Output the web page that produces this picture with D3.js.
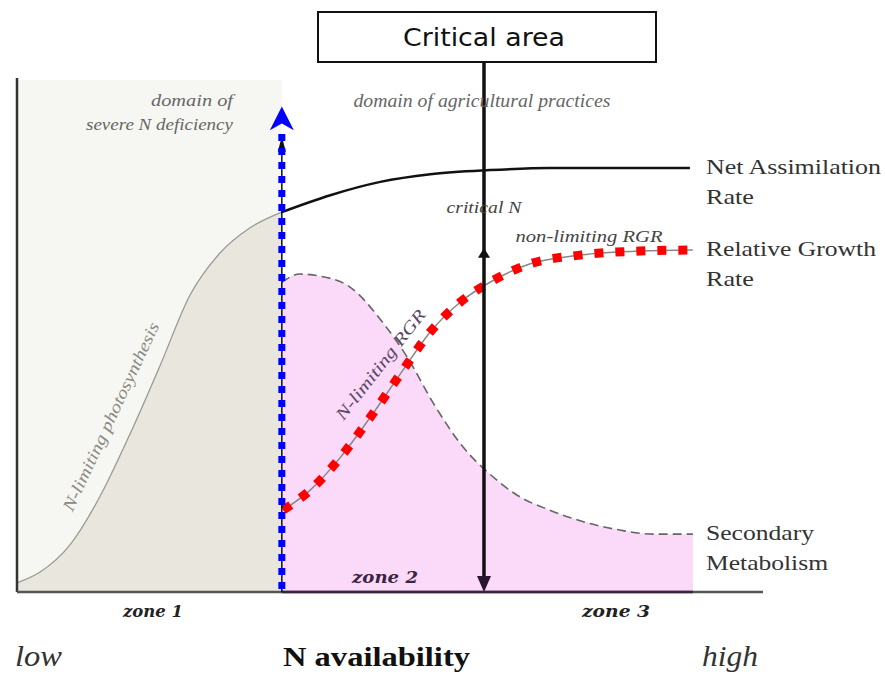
<!DOCTYPE html>
<html>
<head>
<meta charset="utf-8">
<script src="https://cdn.jsdelivr.net/npm/d3@7"></script>
<style>
  body { margin: 0; background: #fff; }
  svg { display: block; }
</style>
</head>
<body>
<svg width="885" height="679"></svg>
<script>
const svg = d3.select("svg");

// N availability (0-100) en x, respuesta relativa (0-100) en y
const photoN   = [0, 3.1, 7.1, 11.1, 15.1, 19.2, 23.2, 27.2, 31.2, 35.5];
const photoVal = [1.8, 3.9, 9.2, 18.6, 30.7, 44.3, 58.0, 66.2, 71.1, 74.2];

const narN   = [35.5, 42.0, 48.7, 55.4, 63.4, 71.4, 90.2];
const narVal = [74.2, 77.5, 80.1, 81.6, 82.4, 82.8, 82.8];

const smN   = [35.5, 37.9, 40.6, 44.6, 49.1, 52.3, 55.8, 59.8, 63.4, 67.4, 71.4, 75.5, 80.8, 85.3, 90.6];
const smVal = [60.5, 62.1, 61.7, 59.6, 52.5, 45.9, 36.9, 28.3, 23.0, 18.6, 16.0, 13.9, 12.1, 11.3, 11.3];

const rgrN   = [35.7, 39.3, 43.3, 47.3, 51.3, 55.4, 59.4, 63.4, 68.8, 75.5, 83.5, 90.6];
const rgrVal = [16.0, 19.9, 26.2, 34.0, 42.4, 50.8, 56.6, 60.5, 64.1, 65.8, 66.6, 66.8];

const deficiencyN = 35.5;   // limite zona 1
const criticalN = 62.6;     // N critico
const endN = 90.6;

const curveLabels = [
  { lines: ["Net Assimilation", "Rate"], widths: [175, 48], val: 82.8 },
  { lines: ["Relative Growth", "Rate"], widths: [170, 48], val: 66.8 },
  { lines: ["Secondary", "Metabolism"], widths: [108, 122], val: 11.3 }
];
const zoneLabels = ["zone 1", "zone 2", "zone 3"];

// Escalas
const xScale = d3.scaleLinear().domain([0, 100]).range([17, 763]);
const yScale = d3.scaleLinear().domain([0, 100]).range([592, 80]);

const zip = (a, b) => a.map((d, i) => [d, b[i]]);
const line = d3.line().x(d => xScale(d[0])).y(d => yScale(d[1])).curve(d3.curveMonotoneX);
const area = d3.area().x(d => xScale(d[0])).y0(yScale(0)).y1(d => yScale(d[1])).curve(d3.curveMonotoneX);

// Texto con ancho fijo (la imagen original esta algo estirada)
function addText(x, y, str, size, width, anchor) {
  const t = svg.append("text")
    .attr("x", x).attr("y", y)
    .attr("text-anchor", anchor || "start")
    .attr("font-size", size + "px")
    .text(str);
  if (width) t.attr("textLength", width).attr("lengthAdjust", "spacingAndGlyphs");
  return t;
}

// Fondo zona 1
svg.append("rect")
  .attr("x", xScale(0)).attr("y", yScale(100))
  .attr("width", xScale(deficiencyN) - xScale(0))
  .attr("height", yScale(0) - yScale(100))
  .attr("fill", "#f6f6f2");

// Area bajo fotosintesis
svg.append("path").datum(zip(photoN, photoVal)).attr("d", area).attr("fill", "#e9e6dd");

// Area rosa metabolismo secundario
svg.append("path").datum(zip(smN, smVal)).attr("d", area).attr("fill", "#fbd9f8");

// Curva fotosintesis limitada
svg.append("path").datum(zip(photoN, photoVal)).attr("d", line)
  .attr("fill", "none").attr("stroke", "#9a9a94").attr("stroke-width", 1.3);

// Net assimilation rate
svg.append("path").datum(zip(narN, narVal)).attr("d", line)
  .attr("fill", "none").attr("stroke", "#111").attr("stroke-width", 2.5);

// Metabolismo secundario (discontinua)
svg.append("path").datum(zip(smN, smVal)).attr("d", line)
  .attr("fill", "none").attr("stroke", "#666").attr("stroke-width", 1.6)
  .attr("stroke-dasharray", "9,5");

// RGR: linea gris + cuadrados rojos
svg.append("path").datum(zip(rgrN, rgrVal)).attr("d", line)
  .attr("fill", "none").attr("stroke", "#888").attr("stroke-width", 1.5);
svg.append("path").datum(zip(rgrN, rgrVal)).attr("d", line)
  .attr("fill", "none").attr("stroke", "#ff0000").attr("stroke-width", 9)
  .attr("stroke-dasharray", "9,12");

// Ejes
svg.append("line")
  .attr("x1", xScale(0)).attr("y1", yScale(0)).attr("x2", xScale(0)).attr("y2", yScale(100) - 2)
  .attr("stroke", "#333").attr("stroke-width", 2.5);
svg.append("line")
  .attr("x1", xScale(0)).attr("y1", yScale(0)).attr("x2", xScale(100)).attr("y2", yScale(0))
  .attr("stroke", "#555").attr("stroke-width", 2.5);
svg.append("line")
  .attr("x1", xScale(deficiencyN)).attr("y1", yScale(0)).attr("x2", xScale(endN)).attr("y2", yScale(0))
  .attr("stroke", "#3b2440").attr("stroke-width", 2.5);

// Flecha negra bajo la azul
const xd = xScale(deficiencyN);
svg.append("line")
  .attr("x1", xd).attr("y1", yScale(0)).attr("x2", xd).attr("y2", yScale(88))
  .attr("stroke", "#111").attr("stroke-width", 1.5);
svg.append("path")
  .attr("d", `M${xd - 4},${yScale(86)} L${xd},${yScale(89)} L${xd + 4},${yScale(86)} Z`)
  .attr("fill", "#111");

// Linea azul punteada con flecha
svg.append("line")
  .attr("x1", xd).attr("y1", yScale(0) - 3).attr("x2", xd).attr("y2", yScale(90.5))
  .attr("stroke", "#0000ff").attr("stroke-width", 7)
  .attr("stroke-dasharray", "7,7");
svg.append("path")
  .attr("d", `M${xd - 12},${yScale(90.2)} L${xd},${yScale(94.8)} L${xd + 12},${yScale(90.2)} L${xd},${yScale(91.5)} Z`)
  .attr("fill", "#0000ff");

// Caja "Critical area"
const xc = xScale(criticalN);
svg.append("rect")
  .attr("x", 318).attr("y", 12).attr("width", 338).attr("height", 50)
  .attr("fill", "#fff").attr("stroke", "#111").attr("stroke-width", 2);
addText(xc, 46, "Critical area", 24, 162, "middle")
  .attr("font-family", "'Comic Sans MS', 'DejaVu Sans', sans-serif")
  .attr("fill", "#111");

// Linea critica con flechas
svg.append("line")
  .attr("x1", xc).attr("y1", 62).attr("x2", xc).attr("y2", yScale(0) - 10)
  .attr("stroke", "#111").attr("stroke-width", 3.5);
svg.append("path")
  .attr("d", `M${xc - 7},${yScale(0) - 16} L${xc},${yScale(0)} L${xc + 7},${yScale(0) - 16} Z`)
  .attr("fill", "#2a1530");
svg.append("path")
  .attr("d", `M${xc - 6},${yScale(65.3)} L${xc},${yScale(67.2)} L${xc + 6},${yScale(65.3)} Z`)
  .attr("fill", "#111");

// Textos de dominio
const italicGray = sel => sel
  .attr("font-family", "'Liberation Serif', 'DejaVu Serif', serif")
  .attr("font-style", "italic")
  .attr("fill", "#666");

addText(233, 106, "domain of", 17, 82, "end").call(italicGray);
addText(233, 130, "severe N deficiency", 17, 147, "end").call(italicGray);
addText(482, 107, "domain of agricultural practices", 18, 257, "middle").call(italicGray);
addText(xc, 213, "critical N", 17, 75, "middle").call(italicGray).attr("fill", "#444");
addText(589, 242, "non-limiting RGR", 17, 147, "middle").call(italicGray).attr("fill", "#444");

// Textos rotados
addText(0, 0, "N-limiting photosynthesis", 17, 206, "middle").call(italicGray)
  .attr("transform", `translate(116,419) rotate(-65)`)
  .attr("fill", "#8a8a84");
addText(0, 0, "N-limiting RGR", 17, 135, "middle").call(italicGray)
  .attr("transform", `translate(385,368) rotate(-52)`)
  .attr("fill", "#5a4866");

// Etiquetas de curvas
curveLabels.forEach(d => {
  d.lines.forEach((s, i) => {
    addText(706, yScale(d.val) + 6 + i * 30, s, 22, d.widths[i])
      .attr("font-family", "'Liberation Serif', 'DejaVu Serif', serif")
      .attr("fill", "#333");
  });
});

// Zonas
const zoneX = [153, 385, 616];
const zoneY = [617, 583, 617];
const zoneW = [60, 66, 68];
zoneLabels.forEach((z, i) => {
  addText(zoneX[i], zoneY[i], z, 17, zoneW[i], "middle")
    .attr("font-family", "'DejaVu Serif', serif")
    .attr("font-style", "italic").attr("font-weight", "bold")
    .attr("fill", i === 1 ? "#3b2440" : "#222");
});

// Eje x: low / N availability / high
addText(15, 666, "low", 29, 47)
  .attr("font-family", "'Liberation Serif', serif").attr("font-style", "italic")
  .attr("fill", "#333");
addText(283, 666, "N availability", 27, 187)
  .attr("font-family", "'Liberation Serif', serif").attr("font-weight", "bold")
  .attr("fill", "#111");
addText(702, 666, "high", 29, 56)
  .attr("font-family", "'Liberation Serif', serif").attr("font-style", "italic")
  .attr("fill", "#333");
</script>
</body>
</html>
